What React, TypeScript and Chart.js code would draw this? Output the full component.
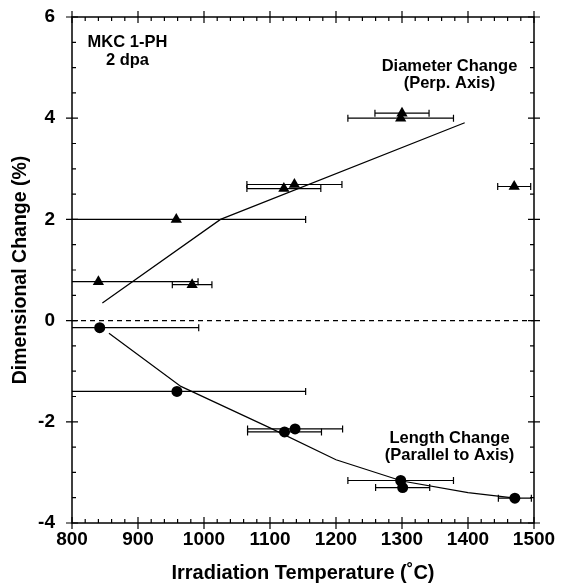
import React, { useEffect, useRef } from "react";
import { Chart, registerables } from "chart.js";

Chart.register(...registerables);

// ---- Data ----
const diamTemp = [840, 982, 958, 1121, 1137, 1298, 1300, 1470];
const diamChange = [0.77, 0.71, 2.0, 2.61, 2.69, 4.0, 4.1, 2.65];
const diamTempErr = [151, 30, 196, 56, 72, 80, 41, 25];

const lenTemp = [842, 959, 1122, 1138, 1298, 1301, 1471];
const lenChange = [-0.14, -1.4, -2.2, -2.14, -3.16, -3.3, -3.51];
const lenTempErr = [150, 195, 56, 72, 80, 41, 25];

const diamFitTemp = [846, 1025, 1395];
const diamFitChange = [0.35, 2.0, 3.91];

const lenFitTemp = [856, 965, 1100, 1200, 1300, 1400, 1465];
const lenFitChange = [-0.25, -1.3, -2.12, -2.75, -3.17, -3.4, -3.5];

const xTickLabels = ["800", "900", "1000", "1100", "1200", "1300", "1400", "1500"];
const yTickLabels = ["-4", "-2", "0", "2", "4", "6"];

const xTitle = "Irradiation Temperature (˚C)";
const yTitle = "Dimensional Change (%)";

const noteTexts = ["MKC 1-PH", "2 dpa", "Diameter Change", "(Perp. Axis)", "Length Change", "(Parallel to Axis)"];
const noteTemps = [884, 884, 1372, 1372, 1372, 1372];
const noteValues = [5.49, 5.14, 5.02, 4.68, -2.33, -2.66];

const FONT = '"Liberation Sans", Arial, Helvetica, sans-serif';

const toPts = (xs: number[], ys: number[]) => xs.map((x, i) => ({ x, y: ys[i] }));

const framePlugin = {
  id: "frame",
  beforeDatasetsDraw(chart: any) {
    const { ctx, chartArea: ca, scales } = chart;
    const xs = scales.x;
    const ys = scales.y;
    ctx.save();
    ctx.strokeStyle = "#000";
    ctx.lineWidth = 1.2;
    ctx.setLineDash([5, 4]);
    ctx.beginPath();
    const y0 = ys.getPixelForValue(0);
    ctx.moveTo(ca.left, y0);
    ctx.lineTo(ca.right, y0);
    ctx.stroke();
    ctx.setLineDash([]);

    ctx.beginPath();
    ctx.rect(ca.left, ca.top, ca.right - ca.left, ca.bottom - ca.top);
    ctx.clip();
    const bars = (T: number[], V: number[], E: number[]) => {
      for (let i = 0; i < T.length; i++) {
        const x1 = xs.getPixelForValue(T[i] - E[i]);
        const x2 = xs.getPixelForValue(T[i] + E[i]);
        const y = ys.getPixelForValue(V[i]);
        ctx.beginPath();
        ctx.moveTo(x1, y);
        ctx.lineTo(x2, y);
        ctx.moveTo(x1, y - 3.5);
        ctx.lineTo(x1, y + 3.5);
        ctx.moveTo(x2, y - 3.5);
        ctx.lineTo(x2, y + 3.5);
        ctx.stroke();
      }
    };
    ctx.lineWidth = 1.2;
    bars(diamTemp, diamChange, diamTempErr);
    bars(lenTemp, lenChange, lenTempErr);
    ctx.restore();
  },
  afterDraw(chart: any) {
    const { ctx, chartArea: ca, scales } = chart;
    const xs = scales.x;
    const ys = scales.y;
    ctx.save();
    ctx.strokeStyle = "#000";
    ctx.lineWidth = 1.5;
    ctx.strokeRect(ca.left, ca.top, ca.right - ca.left, ca.bottom - ca.top);
    ctx.lineWidth = 1.2;
    ctx.beginPath();
    for (let t = 800; t <= 1500; t += 20) {
      const px = xs.getPixelForValue(t);
      const major = t % 100 === 0;
      if (major) {
        ctx.moveTo(px, ca.bottom - 6);
        ctx.lineTo(px, ca.bottom + 6);
        ctx.moveTo(px, ca.top - 6);
        ctx.lineTo(px, ca.top + 6);
      } else {
        ctx.moveTo(px, ca.bottom);
        ctx.lineTo(px, ca.bottom - 4);
        ctx.moveTo(px, ca.top);
        ctx.lineTo(px, ca.top + 4);
      }
    }
    for (let v = -4; v <= 6.001; v += 0.5) {
      const py = ys.getPixelForValue(v);
      const major = Math.abs(v % 2) < 1e-6;
      if (major) {
        ctx.moveTo(ca.left - 6, py);
        ctx.lineTo(ca.left + 6, py);
        ctx.moveTo(ca.right - 6, py);
        ctx.lineTo(ca.right + 6, py);
      } else {
        ctx.moveTo(ca.left, py);
        ctx.lineTo(ca.left + 4, py);
        ctx.moveTo(ca.right, py);
        ctx.lineTo(ca.right - 4, py);
      }
    }
    ctx.stroke();

    ctx.fillStyle = "#000";
    ctx.font = `bold 16.5px ${FONT}`;
    ctx.textAlign = "center";
    ctx.textBaseline = "middle";
    for (let i = 0; i < noteTexts.length; i++) {
      ctx.fillText(noteTexts[i], xs.getPixelForValue(noteTemps[i]), ys.getPixelForValue(noteValues[i]));
    }
    ctx.restore();
  },
};

export default function App() {
  const ref = useRef<HTMLCanvasElement | null>(null);
  useEffect(() => {
    if (!ref.current) return;
    const chart = new Chart(ref.current, {
      type: "scatter",
      data: {
        datasets: [
          {
            label: "Diameter fit",
            data: toPts(diamFitTemp, diamFitChange),
            showLine: true,
            pointRadius: 0,
            borderColor: "#000",
            borderWidth: 1.2,
            fill: false,
          },
          {
            label: "Length fit",
            data: toPts(lenFitTemp, lenFitChange),
            showLine: true,
            pointRadius: 0,
            borderColor: "#000",
            borderWidth: 1.2,
            fill: false,
          },
          {
            label: "Diameter Change",
            data: toPts(diamTemp, diamChange),
            pointStyle: "triangle",
            pointRadius: 6.5,
            backgroundColor: "#000",
            borderColor: "#000",
            borderWidth: 0,
          },
          {
            label: "Length Change",
            data: toPts(lenTemp, lenChange),
            pointStyle: "circle",
            pointRadius: 5.5,
            backgroundColor: "#000",
            borderColor: "#000",
            borderWidth: 0,
          },
        ],
      },
      options: {
        animation: false,
        responsive: false,
        maintainAspectRatio: false,
        layout: { padding: { left: 0, right: 35, top: 17, bottom: 0 } },
        plugins: { legend: { display: false }, tooltip: { enabled: false } },
        scales: {
          x: {
            type: "linear",
            min: 800,
            max: 1500,
            grid: { display: false, drawTicks: false },
            border: { display: false },
            ticks: {
              stepSize: 100,
              autoSkip: false,
              maxRotation: 0,
              color: "#000",
              padding: 5,
              font: { family: FONT, size: 19, weight: "bold" },
              callback: (v: any) => {
                const i = xTickLabels.indexOf(String(v));
                return i >= 0 ? xTickLabels[i] : "";
              },
            },
            title: {
              display: true,
              text: xTitle,
              color: "#000",
              font: { family: FONT, size: 20, weight: "bold" },
              padding: { top: 0, bottom: 0 },
            },
            afterFit: (s: any) => {
              s.height = 62;
              s.paddingLeft = 0;
              s.paddingRight = 0;
            },
          },
          y: {
            type: "linear",
            min: -4,
            max: 6,
            grid: { display: false, drawTicks: false },
            border: { display: false },
            ticks: {
              stepSize: 2,
              autoSkip: false,
              color: "#000",
              padding: 17,
              font: { family: FONT, size: 19, weight: "bold" },
              callback: (v: any) => {
                const i = yTickLabels.indexOf(String(v));
                return i >= 0 ? yTickLabels[i] : "";
              },
            },
            title: {
              display: true,
              text: yTitle,
              color: "#000",
              font: { family: FONT, size: 19.5, weight: "bold" },
              padding: { top: 9, bottom: 0 },
            },
            afterFit: (s: any) => {
              s.width = 72;
              s.paddingTop = 0;
              s.paddingBottom = 0;
            },
          },
        },
      },
      plugins: [framePlugin],
    } as any);
    return () => chart.destroy();
  }, []);
  return (
    <div style={{ position: "fixed", left: 0, top: 0, width: 569, height: 585, background: "#fff" }}>
      <canvas ref={ref} width={569} height={585} />
    </div>
  );
}
